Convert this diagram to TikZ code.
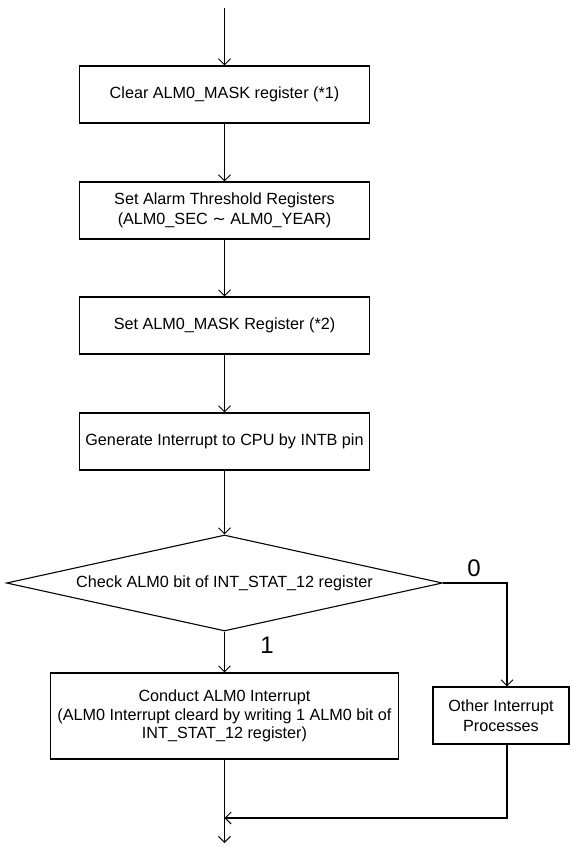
\documentclass[tikz,border=0pt]{standalone}
\usepackage{fontspec}
\setmainfont{Liberation Sans}
\newfontfamily\symfont{DejaVu Sans}
\usetikzlibrary{arrows.meta,shapes.geometric}
\begin{document}
\begin{tikzpicture}[x=1pt,y=-1pt,
  line width=1.1pt,
  arr/.style={-{Straight Barb[length=6pt,width=12pt,line width=1pt]}},
  box/.style={draw, inner sep=0pt, minimum width=290pt, minimum height=57pt, align=center,
    font=\fontsize{16.2}{20}\selectfont},
  lbl/.style={font=\fontsize{24}{26}\selectfont, inner sep=0pt}]
\useasboundingbox (0,0) rectangle (574,847);
\coordinate (start) at (224.5,8);
\node[box] (b1) at (224.5,94.5) {Clear ALM0\_MASK register (*1)};
\node[box] (b2) at (224.5,210.5) {Set Alarm Threshold Registers\\(ALM0\_SEC {\symfont ∼} ALM0\_YEAR)};
\node[box] (b3) at (224.5,325.5) {Set ALM0\_MASK Register (*2)};
\node[box] (b4) at (224.5,441.5) {Generate Interrupt to CPU by INTB pin};
\node[draw, diamond, inner sep=0pt, shape aspect=4.54, minimum width=436pt, minimum height=96pt,
  font=\fontsize{16.2}{20}\selectfont] (d) at (224.5,583) {Check ALM0 bit of INT\_STAT\_12 register};
\node[box, minimum width=348pt, minimum height=86pt, font=\fontsize{16.2}{18.3}\selectfont] (b5) at (224.5,716)
  {Conduct ALM0 Interrupt\\(ALM0 Interrupt cleard by writing 1 ALM0 bit of\\INT\_STAT\_12 register)};
\node[box, minimum width=136pt, minimum height=57pt] (o) at (501,715.5) {Other Interrupt\\Processes};
\coordinate (c0) at (507,583);
\coordinate (m) at (224.5,818);
\coordinate (end) at (224.5,843);
\node[lbl] (l0) at (474,568) {0};
\node[lbl] (l1) at (267,645) {1};
\draw[arr] (start) -- (b1.north);
\draw[arr] (b1.south) -- (b2.north);
\draw[arr] (b2.south) -- (b3.north);
\draw[arr] (b3.south) -- (b4.north);
\draw[arr] (b4.south) -- (d.north);
\draw[arr] (d.south) -- (b5.north);
\draw[arr] (d.east) -- (c0) -- (c0 |- o.north);
\draw[arr] (c0 |- o.south) -- (c0 |- m) -- (m);
\draw[arr] (b5.south) -- (end);
\end{tikzpicture}
\end{document}
